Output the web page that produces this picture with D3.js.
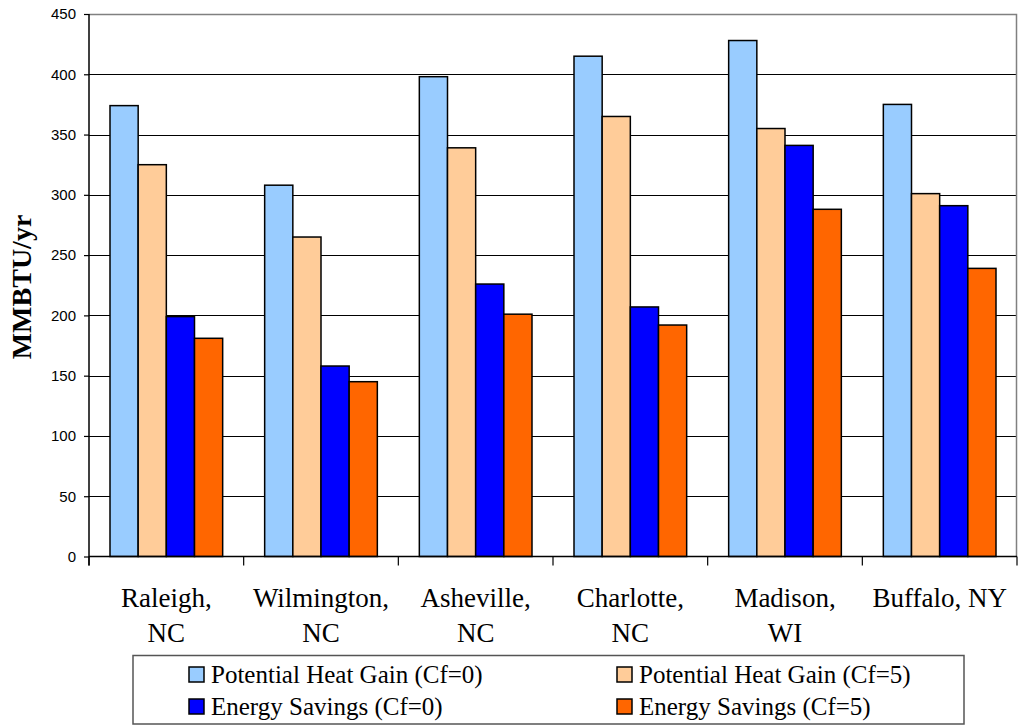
<!DOCTYPE html>
<html>
<head>
<meta charset="utf-8">
<script src="https://cdn.jsdelivr.net/npm/d3@7/dist/d3.min.js"></script>
<style>
  html, body { margin: 0; padding: 0; background: #fff; }
  svg { display: block; }
</style>
</head>
<body>
<svg id="chart" width="1018" height="725"></svg>
<script>
// Annual heat gain potential and energy savings by city
const cities = [["Raleigh,", "NC"], ["Wilmington,", "NC"], ["Asheville,", "NC"], ["Charlotte,", "NC"], ["Madison,", "WI"], ["Buffalo, NY"]];
const seriesNames = ["Potential Heat Gain (Cf=0)", "Potential Heat Gain (Cf=5)", "Energy Savings (Cf=0)", "Energy Savings (Cf=5)"];
const seriesColors = ["#99CCFF", "#FFCC99", "#0000FF", "#FF6600"];
const heatGainCf0 = [374, 308, 398, 415, 428, 375];
const heatGainCf5 = [325, 265, 339, 365, 355, 301];
const savingsCf0 = [199, 158, 226, 207, 341, 291];
const savingsCf5 = [181, 145, 201, 192, 288, 239];
const yTicks = [0, 50, 100, 150, 200, 250, 300, 350, 400, 450];

const series = [heatGainCf0, heatGainCf5, savingsCf0, savingsCf5];
const svg = d3.select("#chart");

const plot = { left: 89, right: 1017, top: 14, bottom: 556.5 };
const serif = "'Liberation Serif', 'Times New Roman', serif";
const sans = "'Liberation Sans', Arial, sans-serif";

const x = d3.scaleBand().domain(d3.range(cities.length)).range([plot.left, plot.right]).padding(0);
const bw = x.bandwidth();
const xs = d3.scaleBand().domain(d3.range(series.length)).range([21, bw - 21]).padding(0);
const y = d3.scaleLinear().domain([0, 450]).range([plot.bottom, plot.top]);

// horizontal gridlines
svg.append("g").selectAll("line").data(yTicks.filter(t => t > 0 && t < 450)).join("line")
  .attr("x1", plot.left).attr("x2", plot.right)
  .attr("y1", d => Math.round(y(d)) + 0.5).attr("y2", d => Math.round(y(d)) + 0.5)
  .attr("stroke", "#000").attr("stroke-width", 1);

// plot frame (top and right edges)
svg.append("path")
  .attr("d", `M${plot.left},${plot.top + 0.5}H${plot.right - 0.5}V${plot.bottom}`)
  .attr("fill", "none").attr("stroke", "#808080").attr("stroke-width", 1.5);

// bars
const groups = svg.append("g").selectAll("g").data(series).join("g")
  .attr("fill", (d, i) => seriesColors[i]);
groups.each(function (vals, si) {
  d3.select(this).selectAll("rect").data(vals).join("rect")
    .attr("x", (d, ci) => x(ci) + xs(si))
    .attr("y", d => y(d))
    .attr("width", xs.bandwidth())
    .attr("height", d => y(0) - y(d))
    .attr("stroke", "#000").attr("stroke-width", 1.5);
});

// y axis
const yAxis = svg.append("g").attr("transform", `translate(${plot.left},0)`)
  .call(d3.axisLeft(y).tickValues(yTicks).tickSize(5).tickPadding(8));
yAxis.select(".domain").attr("stroke", "#000").attr("stroke-width", 1.5)
  .attr("d", `M0,${plot.top}V${plot.bottom + 9}`);
yAxis.selectAll(".tick line").attr("stroke", "#000").attr("stroke-width", 1.2);
yAxis.selectAll(".tick text").attr("font-family", sans).attr("font-size", 15).attr("fill", "#000");

// x axis with ticks at category boundaries
const xAxis = svg.append("g").attr("transform", `translate(0,${plot.bottom})`);
xAxis.append("line").attr("x1", plot.left).attr("x2", plot.right).attr("stroke", "#000").attr("stroke-width", 1.5);
xAxis.selectAll("line.tk").data(d3.range(cities.length + 1)).join("line").attr("class", "tk")
  .attr("x1", i => plot.left + i * bw).attr("x2", i => plot.left + i * bw)
  .attr("y1", 0).attr("y2", 9).attr("stroke", "#000").attr("stroke-width", 1.2);

// category labels
const labels = svg.append("g").selectAll("text").data(cities).join("text")
  .attr("font-family", serif).attr("font-size", 27).attr("text-anchor", "middle").attr("fill", "#000");
labels.each(function (lines, i) {
  d3.select(this).selectAll("tspan").data(lines).join("tspan")
    .attr("x", x(i) + bw / 2)
    .attr("y", (d, k) => 607 + k * 35)
    .text(d => d);
});

// y axis title
svg.append("text")
  .attr("transform", "translate(31,287) rotate(-90)")
  .attr("text-anchor", "middle")
  .attr("font-family", serif).attr("font-weight", "bold").attr("font-size", 28)
  .text("MMBTU/yr");

// legend
const legend = svg.append("g");
legend.append("rect").attr("x", 133).attr("y", 655.5).attr("width", 831).attr("height", 68.5)
  .attr("fill", "#fff").attr("stroke", "#555").attr("stroke-width", 1.5);
const colX = [189, 617];
const rowY = [667, 699];
const items = legend.selectAll("g.item").data(seriesNames).join("g").attr("class", "item")
  .attr("transform", (d, i) => `translate(${colX[i % 2]},${rowY[Math.floor(i / 2)]})`);
items.append("rect").attr("width", 15).attr("height", 15)
  .attr("fill", (d, i) => seriesColors[i]).attr("stroke", "#000").attr("stroke-width", 1.5);
items.append("text").attr("x", 22).attr("y", 15.5)
  .attr("font-family", serif).attr("font-size", 25).attr("fill", "#000")
  .text(d => d);
</script>
</body>
</html>
